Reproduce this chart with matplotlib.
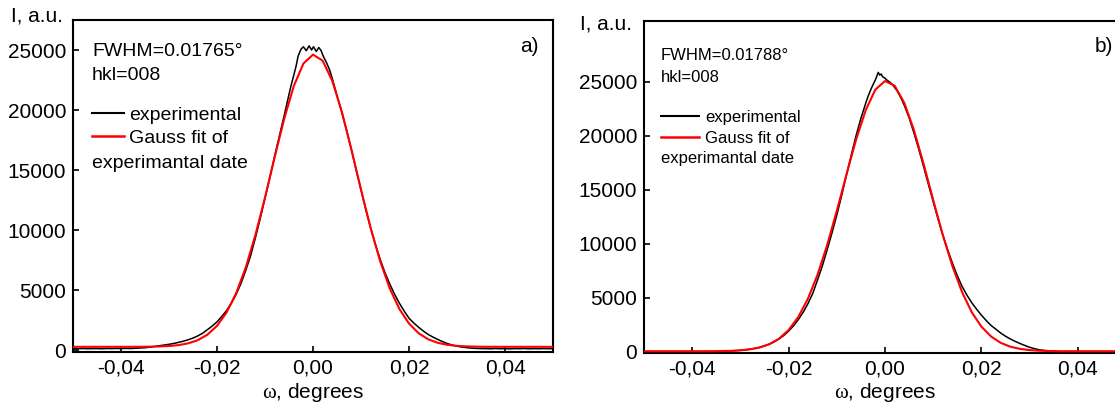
import matplotlib
matplotlib.use("Agg")
import matplotlib.pyplot as plt
from matplotlib.lines import Line2D

plt.rcParams['font.family'] = ['Liberation Sans', 'DejaVu Sans']
plt.rcParams['mathtext.fontset'] = 'custom'
plt.rcParams['mathtext.rm'] = 'Liberation Serif'
plt.rcParams['mathtext.it'] = 'Liberation Serif:italic'
plt.rcParams['mathtext.bf'] = 'Liberation Serif:bold'

# ---------------- data ----------------
x_ticks = [-0.04, -0.02, 0.0, 0.02, 0.04]
x_tick_labels = ["-0,04", "-0,02", "0,00", "0,02", "0,04"]
y_ticks = [0, 5000, 10000, 15000, 20000, 25000]
y_tick_labels = ["0", "5000", "10000", "15000", "20000", "25000"]

fit_x = [-0.050, -0.048, -0.046, -0.044, -0.042, -0.040, -0.038, -0.036,
         -0.034, -0.032, -0.030, -0.028, -0.026, -0.024, -0.022, -0.020,
         -0.018, -0.016, -0.014, -0.012, -0.010, -0.008, -0.006, -0.004,
         -0.002, 0.000, 0.002, 0.004, 0.006, 0.008, 0.010, 0.012, 0.014,
         0.016, 0.018, 0.020, 0.022, 0.024, 0.026, 0.028, 0.030, 0.032,
         0.034, 0.036, 0.038, 0.040, 0.042, 0.044, 0.046, 0.048, 0.050]

fit_a = [270, 270, 270, 270, 270, 270, 270, 270,
         283, 300, 337, 413, 560, 825, 1280, 2018, 3138, 4746,
         6893, 9586, 12708, 16047, 19268, 21998, 23870, 24620, 24116, 22453,
         19867, 16709, 13368, 10181, 7390, 5128, 3418, 2208, 1402, 898,
         601, 436, 349, 306, 285,
         270, 270, 270, 270, 270, 270, 270, 270]

fit_b = [60, 60, 60, 60, 60, 60, 60, 60,
         78, 100, 146, 238, 410, 713, 1221, 2025, 3223, 4910,
         7135, 9885, 13045, 16400, 19628, 22365, 24258, 25046, 24618, 23035,
         20518, 17398, 14048, 10800, 7908, 5520, 3673, 2338, 1428, 840,
         484, 280, 168, 111, 83,
         60, 60, 60, 60, 60, 60, 60, 60]

exp_a_x = [-0.050, -0.049, -0.048, -0.047, -0.046, -0.045, -0.044, -0.043,
           -0.042, -0.041, -0.040, -0.039, -0.038, -0.037, -0.036, -0.035,
           -0.034, -0.033, -0.032, -0.031, -0.030, -0.029, -0.028, -0.027,
           -0.026, -0.025, -0.024, -0.023, -0.022, -0.021, -0.020, -0.019,
           -0.018, -0.017, -0.016, -0.015, -0.014, -0.013, -0.012, -0.011,
           -0.010, -0.009, -0.008, -0.007, -0.006,
           -0.0050, -0.0045, -0.0040, -0.0035, -0.0031, -0.0025, -0.0020,
           -0.0014, -0.0008, -0.0003, 0.0001, 0.0007, 0.0012, 0.0017,
           0.0021, 0.0028, 0.0035, 0.0040, 0.0050,
           0.006, 0.007, 0.008, 0.009, 0.010, 0.011, 0.012, 0.013, 0.014,
           0.015, 0.016, 0.017, 0.018, 0.019, 0.020, 0.021, 0.022, 0.023,
           0.024, 0.025, 0.026, 0.027, 0.028, 0.029, 0.030, 0.031, 0.032,
           0.033, 0.034, 0.035, 0.036, 0.037, 0.038, 0.039, 0.040, 0.041,
           0.042, 0.043, 0.044, 0.045, 0.046, 0.047, 0.048, 0.049, 0.050]
exp_a_y = [120, 110, 130, 115, 120, 125, 110, 130,
           120, 135, 125, 140, 130, 150, 170, 195,
           240, 300, 360, 420, 480, 550, 640, 740,
           860, 1000, 1180, 1400, 1700, 2000, 2350, 2800,
           3300, 3900, 4650, 5550, 6650, 7850, 9350, 10950,
           12650, 14350, 16150, 17850, 19550,
           21300, 22150, 22900, 23700, 24500, 25070, 25270,
           24940, 25350, 25000, 25270, 24880, 25210, 24940,
           24520, 23960, 23300, 22650, 21200,
           19800, 18300, 16700, 15000, 13350, 11700, 10200, 8800, 7550,
           6450, 5500, 4650, 3900, 3250, 2650, 2250, 1900, 1580,
           1300, 1080, 880, 700, 540, 420, 320, 250, 200,
           160, 140, 125, 120, 105, 130, 110, 125, 100,
           120, 115, 130, 105, 120, 110, 125, 115, 120]

exp_b_x = [-0.050, -0.049, -0.048, -0.047, -0.046, -0.045, -0.044, -0.043,
           -0.042, -0.041, -0.040, -0.039, -0.038, -0.037, -0.036, -0.035,
           -0.034, -0.033, -0.032, -0.031, -0.030, -0.029, -0.028, -0.027,
           -0.026, -0.025, -0.024, -0.023, -0.022, -0.021, -0.020, -0.019,
           -0.018, -0.017, -0.016, -0.015, -0.014, -0.013, -0.012, -0.011,
           -0.010, -0.009, -0.008, -0.007, -0.006,
           -0.0050, -0.0045, -0.0040, -0.0035, -0.0030, -0.0025, -0.0020,
           -0.0017, -0.0014, -0.0011, -0.0008, -0.0005, 0.0000, 0.0005,
           0.0010, 0.0015, 0.0020, 0.0025, 0.0030, 0.0035, 0.0040, 0.0050,
           0.006, 0.007, 0.008, 0.009, 0.010, 0.011, 0.012, 0.013, 0.014,
           0.015, 0.016, 0.017, 0.018, 0.019, 0.020, 0.021, 0.022, 0.023,
           0.024, 0.025, 0.026, 0.027, 0.028, 0.029, 0.030, 0.031, 0.032,
           0.033, 0.034, 0.035, 0.036, 0.037, 0.038, 0.039, 0.040, 0.041,
           0.042, 0.043, 0.044, 0.045, 0.046, 0.047, 0.048, 0.049, 0.050]
exp_b_y = [30, 40, 25, 35, 30, 45, 30, 35,
           40, 30, 45, 35, 40, 50, 45, 60,
           70, 80, 95, 115, 150, 195, 250, 330,
           430, 560, 720, 930, 1190, 1520, 1920, 2400,
           2980, 3650, 4450, 5400, 6650, 7950, 9450, 11000,
           12650, 14450, 16350, 18200, 20000,
           21600, 22300, 23000, 23650, 24200, 24700, 25150,
           25500, 25850, 25600, 25700, 25450, 25300, 25100,
           24950, 24750, 24450, 24150, 23750, 23300, 22800, 21650,
           20250, 18750, 17150, 15500, 13900, 12300, 10800, 9450, 8200,
           7050, 6050, 5250, 4550, 3950, 3400, 2900, 2450, 2100,
           1750, 1450, 1200, 980, 780, 600, 430, 300, 200,
           140, 100, 70, 40, 30, 45, 35, 30, 40,
           25, 35, 45, 30, 40, 35, 30, 40, 35]

# ---------------- figure ----------------
W, H = 1115, 405
fig = plt.figure(figsize=(W / 100, H / 100), dpi=100)
fig.patch.set_facecolor("white")


def px_axes(left, top, right, bottom):
    return fig.add_axes([left / W, 1 - bottom / H, (right - left) / W, (bottom - top) / H])


def ftext(x, y, s, **kw):
    kw.setdefault("va", "center")
    return fig.text(x / W, 1 - y / H, s, **kw)


panels = [
    dict(box=(73, 20, 553, 351.5), ylim=(-120, 27500), exp_x=exp_a_x, exp_y=exp_a_y,
         fit=fit_a, fwhm="FWHM=0.01765\u00b0", tag="a)", fs=14,
         txt_x=92, y_fwhm=52, y_hkl=75, y_leg=115, y_date=163,
         hl=1.65, htp=0.26, ls=0.27, tag_xy=(539, 47), ylab_xy=(11, 16)),
    dict(box=(644, 21, 1126, 353), ylim=(-100, 30600), exp_x=exp_b_x, exp_y=exp_b_y,
         fit=fit_b, fwhm="FWHM=0.01788\u00b0", tag="b)", fs=12,
         txt_x=661, y_fwhm=55, y_hkl=77, y_leg=117, y_date=159,
         hl=2.28, htp=0.36, ls=0.38, tag_xy=(1113, 47), ylab_xy=(580, 24)),
]

for p in panels:
    l, t, r, b = p["box"]
    ax = px_axes(l, t, r, b)
    ax.plot(p["exp_x"], p["exp_y"], color="black", lw=1.1, zorder=2)
    ax.plot(fit_x, p["fit"], color="#ff0000", lw=1.5, zorder=3)
    ax.set_xlim(-0.05, 0.05)
    ax.set_ylim(*p["ylim"])
    ax.set_xticks(x_ticks)
    ax.set_xticklabels(x_tick_labels)
    ax.set_yticks(y_ticks)
    ax.set_yticklabels(y_tick_labels)
    ax.tick_params(direction="in", length=4, width=1.2, labelsize=15, pad=5,
                   top=False, right=False)
    for s in ax.spines.values():
        s.set_linewidth(1.5)
    ax.set_xlabel(r"$\mathrm{\omega}$, degrees", fontsize=15)
    ax.xaxis.set_label_coords(0.5, -(393 - b) / (b - t))
    ax.xaxis.label.set_va("center")
    ax.set_ylabel("I, a.u.", fontsize=15, rotation=0, ha="left", va="center")
    ax.yaxis.set_label_coords((p["ylab_xy"][0] - l) / (r - l), (b - p["ylab_xy"][1]) / (b - t))

    fs = p["fs"]
    ftext(p["txt_x"], p["y_fwhm"], p["fwhm"], fontsize=fs)
    ftext(p["txt_x"], p["y_hkl"], "hkl=008", fontsize=fs)
    handles = [Line2D([], [], color="black", lw=1.5), Line2D([], [], color="#ff0000", lw=1.8)]
    row_h = 1.117 * fs * 100 / 72
    leg = ax.legend(handles, ["experimental", "Gauss fit of"], loc="upper left",
                    bbox_to_anchor=(p["txt_x"] / W, 1 - (p["y_leg"] - row_h / 2 + 2) / H),
                    bbox_transform=fig.transFigure, frameon=False, fontsize=fs,
                    handlelength=p["hl"], handletextpad=p["htp"], labelspacing=p["ls"],
                    borderpad=0, borderaxespad=0)
    ftext(p["txt_x"], p["y_date"], "experimantal date", fontsize=fs)
    ftext(p["tag_xy"][0], p["tag_xy"][1], p["tag"], fontsize=15, ha="right")

fig.savefig("out.png", dpi=100, facecolor="white")
